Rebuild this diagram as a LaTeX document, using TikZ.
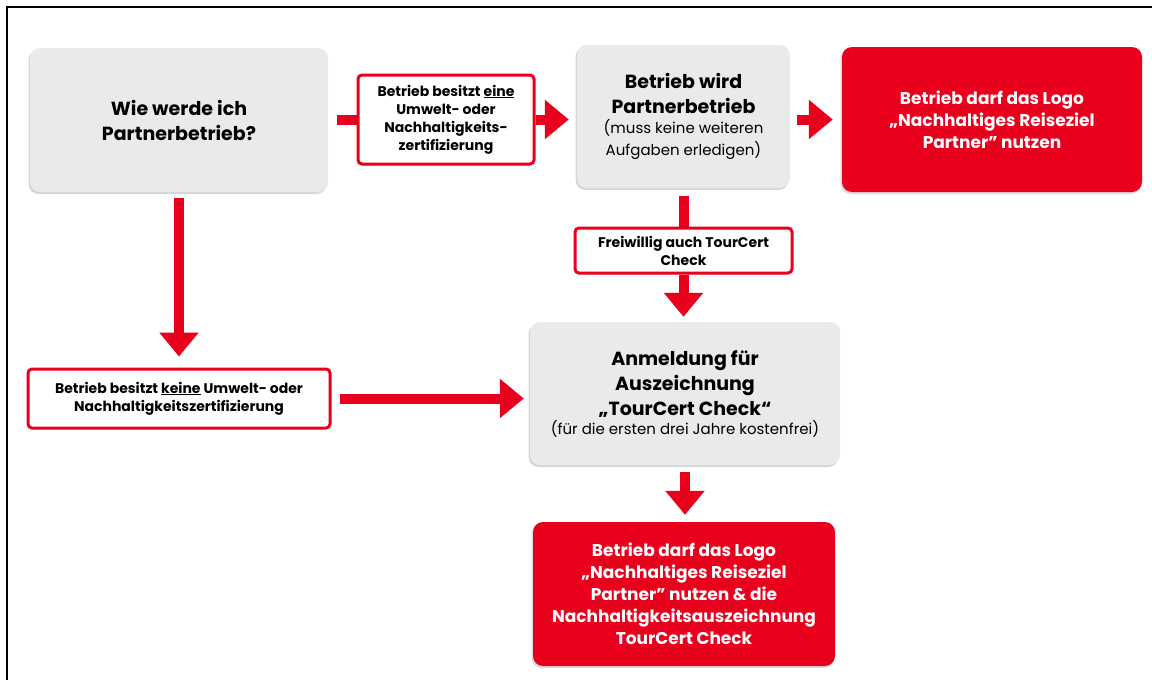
\documentclass[tikz,border=0pt]{standalone}
\usepackage{fontspec}
\setmainfont{Poppins}
\usetikzlibrary{arrows.meta,shadows}
\definecolor{fred}{RGB}{232,0,28}
\definecolor{fgrey}{RGB}{234,234,234}
\newcommand{\bigt}{\bfseries\fontsize{19}{25}\selectfont}
\newcommand{\smallt}{\normalfont\fontsize{15}{19}\selectfont}
\tikzset{
  greybox/.style={fill=fgrey, rounded corners=10pt, align=center, inner sep=0pt, font=\bigt,
    drop shadow={shadow xshift=-1.5pt, shadow yshift=-2pt, opacity=0.35, fill=black!45}},
  redbox/.style={fill=fred, text=white, rounded corners=10pt, align=center, inner sep=0pt,
    font=\bfseries\fontsize{17}{22}\selectfont,
    drop shadow={shadow xshift=-1.5pt, shadow yshift=-2pt, opacity=0.3, fill=black!45}},
  labelbox/.style={fill=white, draw=fred, line width=3pt, rounded corners=4pt, align=center, inner sep=0pt,
    font=\bfseries\fontsize{14}{18}\selectfont,
    drop shadow={shadow xshift=-1pt, shadow yshift=-1.5pt, opacity=0.25, fill=black!45}},
  conn/.style={draw=fred, line width=10pt},
  arr/.style={conn, -{Triangle[width=38pt,length=24pt]}},
}
\begin{document}
\begin{tikzpicture}[x=1pt,y=-1pt]
\useasboundingbox (0,0) rectangle (1152,680);
\fill[white] (0,0) rectangle (1152,680);
\draw[line width=2pt] (7,680) -- (7,7) -- (1152,7);

\node[greybox, minimum width=298pt, minimum height=144pt] (A) at (179,120)
  {Wie werde ich\\Partnerbetrieb?};
\node[labelbox, minimum width=176pt, minimum height=89pt] (L1) at (446,119.5)
  {Betrieb besitzt \underline{eine}\\Umwelt- oder\\Nachhaltigkeits-\\zertifizierung};
\node[greybox, minimum width=213pt, minimum height=143pt] (B) at (683.5,116.5)
  {Betrieb wird\\Partnerbetrieb\\[-5pt]\smallt (muss keine weiteren\\[-3pt]\smallt Aufgaben erledigen)};
\node[redbox, minimum width=300pt, minimum height=145pt] (C) at (992,119.5)
  {Betrieb darf das Logo\\„Nachhaltiges Reiseziel\\Partner" nutzen};
\node[labelbox, minimum width=217pt, minimum height=45pt] (L2) at (683.5,250.5)
  {Freiwillig auch TourCert\\Check};
\node[greybox, minimum width=310pt, minimum height=143pt] (D) at (685,393.5)
  {Anmeldung für\\Auszeichnung\\„TourCert Check“\\[-6pt]\smallt (für die ersten drei Jahre kostenfrei)};
\node[labelbox, minimum width=302pt, minimum height=59pt] (L3) at (179,398.5)
  {Betrieb besitzt \underline{keine} Umwelt- oder\\Nachhaltigkeitszertifizierung};
\node[redbox, minimum width=302pt, minimum height=144pt] (E) at (684,594)
  {Betrieb darf das Logo\\„Nachhaltiges Reiseziel\\Partner" nutzen \& die\\Nachhaltigkeitsauszeichnung\\TourCert Check};

\draw[conn, shorten <=9pt] (A.east) -- (L1.west |- A.east);
\draw[arr, shorten >=8pt] (L1.east) -- (B.west |- L1.east);
\draw[arr, shorten <=7pt, shorten >=9pt] (B.east |- C.west) -- (C.west);
\draw[conn, shorten <=8pt] (L2.north |- B.south) -- (L2.north);
\draw[arr, shorten >=5pt] (L2.south) -- (L2.south |- D.north);
\draw[arr, shorten <=6pt, shorten >=11pt] (A.south) -- (L3.north);
\draw[arr, shorten <=8pt, shorten >=6pt] (L3.east) -- (L3.east -| D.west);
\draw[arr, shorten <=7pt, shorten >=7pt] (D.south) -- (D.south |- E.north);
\end{tikzpicture}
\end{document}
